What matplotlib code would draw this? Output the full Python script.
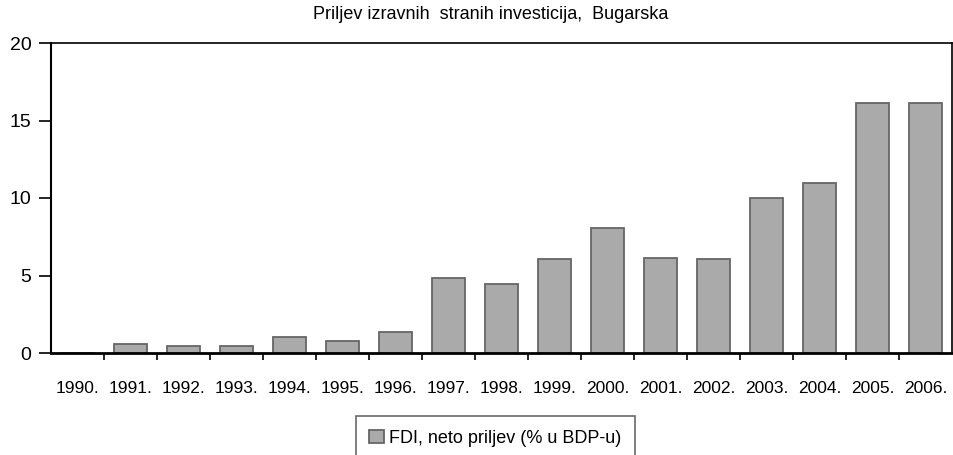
import numpy as np
import matplotlib
matplotlib.use('Agg')
from matplotlib import pyplot as plt

plt.rcParams['font.family'] = ['Liberation Sans', 'DejaVu Sans']

years = ['1990.', '1991.', '1992.', '1993.', '1994.', '1995.', '1996.', '1997.', '1998.',
         '1999.', '2000.', '2001.', '2002.', '2003.', '2004.', '2005.', '2006.']
fdi = [-0.05, 0.55, 0.45, 0.45, 1.05, 0.75, 1.35, 4.85, 4.45,
       6.05, 8.05, 6.1, 6.05, 10.0, 11.0, 16.1, 16.1]
yticks = [0, 5, 10, 15, 20]

fig = plt.figure(figsize=(9.54, 4.55), dpi=100)
ax = fig.add_axes([51/954, (455-353)/455, 901/954, 310/455])

x = np.arange(len(years))
ax.bar(x, fdi, width=0.64, color='#aaaaaa', edgecolor='#666666', linewidth=1.3,
       label='FDI, neto priljev (% u BDP-u)', zorder=2)

ax.set_xlim(-0.5, len(years) - 0.5)
ax.set_ylim(0, 20)
ax.set_yticks(yticks)
ax.tick_params(axis='y', labelsize=14, length=9, width=1.2, direction='out', pad=5)

# category labels between boundary ticks
ax.set_xticks(x)
ax.set_xticklabels(years)
ax.tick_params(axis='x', which='major', length=0, labelsize=12.5, pad=20)
ax.set_xticks(np.arange(0.5, len(years) - 1, 1), minor=True)
ax.tick_params(axis='x', which='minor', length=5, width=1.2, direction='out')

for s in ax.spines.values():
    s.set_linewidth(1.2)
ax.spines['bottom'].set_linewidth(2)
ax.spines['left'].set_linewidth(1.5)

fig.text(0.514, 0.969, 'Priljev izravnih  stranih investicija,  Bugarska',
         ha='center', va='center', fontsize=13)

leg = fig.legend(loc='upper center', bbox_to_anchor=(0.519, 1 - 416/455), frameon=True,
                 fancybox=False, fontsize=13, handlelength=0.8, handleheight=0.8,
                 handletextpad=0.3, borderpad=0.75, borderaxespad=0)
leg.get_frame().set_edgecolor('#444444')
leg.get_frame().set_linewidth(1.2)

fig.savefig('out.png', dpi=100)
